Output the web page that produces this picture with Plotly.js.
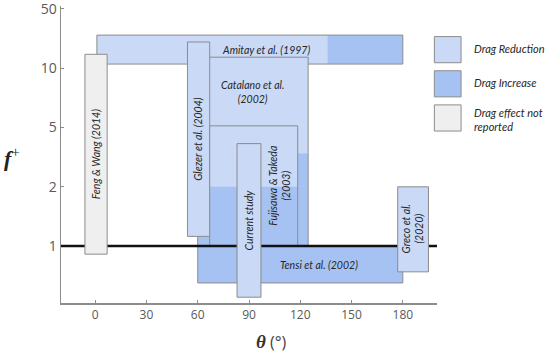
<!DOCTYPE html>
<html>
<head>
<meta charset="utf-8">
<script src="https://cdn.plot.ly/plotly-3.0.1.min.js"></script>
<style>
  html, body { margin: 0; padding: 0; background: #fff; }
  #chart { width: 550px; height: 354px; }
</style>
</head>
<body>
<div id="chart"></div>
<script>
// f+ axis: ticks are evenly spaced even though the values are not
const fTicks = [1, 2, 5, 10, 50];
const thetaTicks = [0, 30, 60, 90, 120, 150, 180];

// one box per study, drawn in this order
const studies = [
  "Amitay et al. (1997)",
  "Catalano et al.<br>(2002)",
  "Glezer et al. (2004)",
  "Fujisawa & Takeda<br>(2003)",
  "Tensi et al. (2002)",
  "Feng & Wang (2014)",
  "Current study",
  "Greco et al.<br>(2020)",
];
const thetaMin = [1, 60, 54, 67, 60, -6, 83, 177];
const thetaMax = [180, 124.6, 67, 118.5, 180, 7, 97, 195];
const fMin = [11.2, 1, 1.12, 1, 0.65, 0.91, 0.55, 0.74];
const fMax = [24.6, 13.5, 20.4, 5.1, 1, 14.6, 3.9, 2];
const effect = ["reduction", "reduction", "reduction", "reduction", "increase", "unknown", "reduction", "reduction"];

// parts of a box where drag went up instead
const incStudy = [0, 1, 1, 3];
const incThetaMin = [136, 60, 118.5, 67];
const incThetaMax = [180, 124.6, 124.6, 118.5];
const incFMin = [11.2, 1, 2, 1];
const incFMax = [24.6, 2, 3.35, 2];

const legendNames = ["Drag Reduction", "Drag Increase", "Drag effect not<br>reported"];
const legendEffects = ["reduction", "increase", "unknown"];

const fills = { reduction: "#c9d9f6", increase: "#a6c2f2", unknown: "#efefef" };
const edge = "#8c8c8c";
const labelFont = { family: "Lato, 'Open Sans', sans-serif", size: 10.5, color: "#262626" };

// where the text sits when it isn't at the middle of the box
const labelPlace = {
  0: { x: 100 },
  1: { y: 2.6 },
  3: { x: 108, angle: -90 },
  4: { x: 131 },
};

// position of an f+ value on the evenly spaced tick axis
function fPos(f) {
  const n = fTicks.length;
  let i = 0;
  while (i < n - 2 && f > fTicks[i + 1]) i++;
  return i + Math.log(f / fTicks[i]) / Math.log(fTicks[i + 1] / fTicks[i]);
}

function rect(x0, x1, f0, f1, fill, lineWidth) {
  return {
    type: "rect", xref: "x", yref: "y", layer: "above",
    x0: x0, x1: x1, y0: fPos(f0), y1: fPos(f1),
    fillcolor: fill,
    line: { color: edge, width: lineWidth },
  };
}

const shapes = [];
const annotations = [];

function drawStudy(i) {
  shapes.push(rect(thetaMin[i], thetaMax[i], fMin[i], fMax[i], fills[effect[i]], 0));
  incStudy.forEach((s, k) => {
    if (s === i) shapes.push(rect(incThetaMin[k], incThetaMax[k], incFMin[k], incFMax[k], fills.increase, 0));
  });
  shapes.push(rect(thetaMin[i], thetaMax[i], fMin[i], fMax[i], "rgba(0,0,0,0)", 1));

  const p = labelPlace[i] || {};
  const w = thetaMax[i] - thetaMin[i];
  annotations.push({
    xref: "x", yref: "y",
    x: p.x !== undefined ? p.x : (thetaMin[i] + thetaMax[i]) / 2,
    y: p.y !== undefined ? p.y : (fPos(fMin[i]) + fPos(fMax[i])) / 2,
    xanchor: "center", yanchor: "middle",
    text: "<i>" + studies[i] + "</i>",
    textangle: p.angle !== undefined ? p.angle : (w < 25 ? -90 : 0),
    showarrow: false,
    font: labelFont,
  });
}

// boxes that cross f+ = 1 are drawn over the reference line
const crossing = studies.map((_, i) => fMin[i] < 1 && fMax[i] > 1);
studies.forEach((_, i) => { if (!crossing[i]) drawStudy(i); });
shapes.push({
  type: "line", xref: "paper", yref: "y", layer: "above",
  x0: 0, x1: 1, y0: fPos(1), y1: fPos(1),
  line: { color: "#111", width: 2.5 },
});
studies.forEach((_, i) => { if (crossing[i]) drawStudy(i); });

// legend swatches to the right of the plot
legendNames.forEach((name, k) => {
  const top = 0.897 - k * 0.115;
  shapes.push({
    type: "rect", xref: "paper", yref: "paper",
    x0: 0.993, x1: 1.064, y0: top - 0.088, y1: top,
    fillcolor: fills[legendEffects[k]],
    line: { color: edge, width: 1 },
  });
  annotations.push({
    xref: "paper", yref: "paper", x: 1.093, y: top - 0.044 + (k === 2 ? -0.005 : 0.005),
    xanchor: "left", yanchor: "middle", align: "left", showarrow: false,
    text: "<i>" + name + "</i>",
    font: { family: "Lato, 'Open Sans', sans-serif", size: 11, color: "#262626" },
  });
});

// axis titles
annotations.push({
  xref: "paper", yref: "paper", x: -0.129, y: 0.49,
  xanchor: "center", yanchor: "middle", showarrow: false,
  text: "<b><i>f</i></b><sup>+</sup>",
  font: { family: "'Liberation Serif', serif", size: 22, color: "#222" },
});
annotations.push({
  xref: "paper", yref: "paper", x: 0.56, y: -0.131,
  xanchor: "center", yanchor: "middle", showarrow: false,
  text: "<b><i>θ</i></b><span style='font-family:Open Sans;font-size:16px;color:#444'> (°)</span>",
  font: { family: "'Liberation Serif', serif", size: 19, color: "#333" },
});

const axisStyle = {
  showline: true, linecolor: "#8c8c8c", linewidth: 1.5,
  ticks: "inside", ticklen: 3, tickcolor: "#8c8c8c",
  showgrid: false, zeroline: false, fixedrange: true,
  ticklabeloverflow: "allow",
};

const layout = {
  width: 550, height: 354,
  margin: { l: 61, r: 113, t: 6, b: 51 },
  paper_bgcolor: "#fff", plot_bgcolor: "#fff",
  showlegend: false,
  xaxis: Object.assign({}, axisStyle, {
    range: [-20, 200],
    tickvals: thetaTicks,
    tickfont: { family: "'Open Sans', sans-serif", size: 12, color: "#595959" },
  }),
  yaxis: Object.assign({}, axisStyle, {
    range: [-0.96, 4.05],
    tickvals: fTicks.map(fPos),
    ticktext: fTicks.map(String),
    tickfont: { family: "'Open Sans', sans-serif", size: 14, color: "#595959" },
  }),
  shapes: shapes,
  annotations: annotations,
};

Plotly.newPlot("chart", [{ x: [], y: [], type: "scatter", hoverinfo: "skip" }], layout, { displayModeBar: false, staticPlot: true });
</script>
</body>
</html>
